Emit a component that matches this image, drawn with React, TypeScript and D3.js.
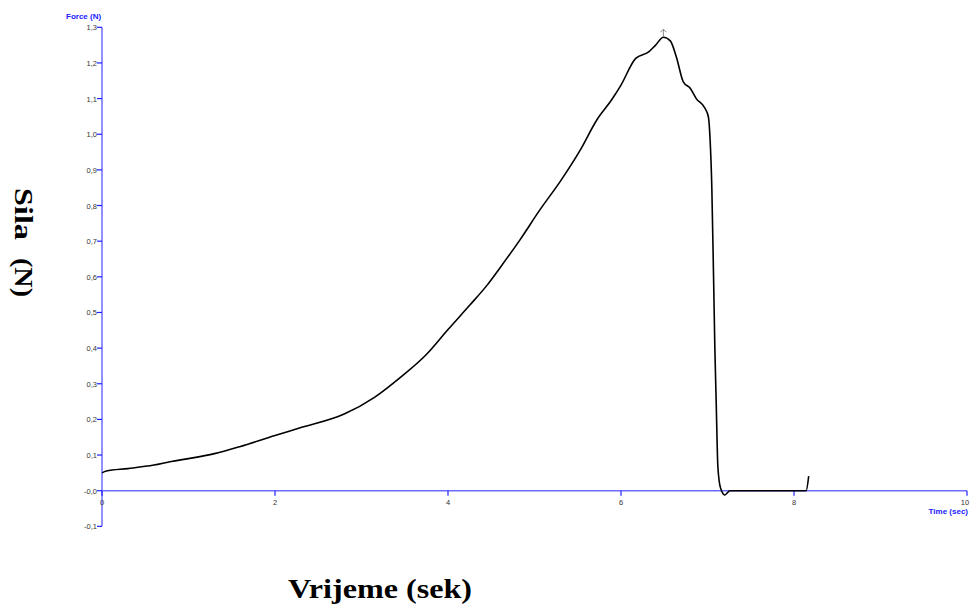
import React from "react";
import * as d3 from "d3";

const timeValues = [0, 0.05, 0.3, 0.6, 0.8, 1.0, 1.3, 1.6, 2.0, 2.3, 2.8, 3.15, 3.45, 3.75, 4.0, 4.25, 4.45, 4.6, 4.83, 5.06, 5.31, 5.53, 5.72, 5.89, 6.0, 6.17, 6.32, 6.4, 6.49, 6.57, 6.64, 6.72, 6.8, 6.87, 6.97, 7.01, 7.03, 7.05, 7.07, 7.085, 7.1, 7.12, 7.15, 7.2, 7.26, 7.5, 8.0, 8.14, 8.17];
const forceValues = [0.05, 0.055, 0.062, 0.072, 0.082, 0.09, 0.104, 0.124, 0.155, 0.177, 0.215, 0.262, 0.318, 0.382, 0.452, 0.52, 0.576, 0.625, 0.703, 0.787, 0.872, 0.956, 1.04, 1.096, 1.138, 1.213, 1.231, 1.25, 1.272, 1.262, 1.217, 1.147, 1.129, 1.1, 1.073, 1.049, 0.985, 0.85, 0.6, 0.4, 0.254, 0.067, 0.008, -0.012, 0, 0, 0, 0, 0.041];
const yTicks = [-0.1, 0, 0.1, 0.2, 0.3, 0.4, 0.5, 0.6, 0.7, 0.8, 0.9, 1.0, 1.1, 1.2, 1.3];
const yTickLabels = ["-0,1", "-0,0", "0,1", "0,2", "0,3", "0,4", "0,5", "0,6", "0,7", "0,8", "0,9", "1,0", "1,1", "1,2", "1,3"];
const xTicks = [0, 2, 4, 6, 8, 10];
const xTickLabels = ["0", "2", "4", "6", "8", "10"];

export default function App() {
  const W = 973, H = 610;
  const x = d3.scaleLinear().domain([0, 10]).range([102, 967]);
  const y = d3.scaleLinear().domain([0, 1.3]).range([490.7, 27.3]);
  const data = timeValues.map((t, i) => [t, forceValues[i]] as [number, number]);
  const line = d3.line<[number, number]>().x(d => x(d[0])).y(d => y(d[1])).curve(d3.curveMonotoneX);
  const axisColor = "#6b6bff";
  const tickColor = "#2020ff";
  const labelColor = "#333";
  const peak = data.reduce((a, b) => (b[1] > a[1] ? b : a));
  const serif = "Liberation Serif, Times New Roman, serif";
  const sans = "Arial, Liberation Sans, sans-serif";
  return (
    <svg width={W} height={H} style={{ position: "absolute", left: 0, top: 0, background: "#fff" }}>
      <rect width={W} height={H} fill="#fff" />
      {/* y axis */}
      <line x1={x(0)} x2={x(0)} y1={y(1.3)} y2={y(-0.1)} stroke={axisColor} strokeWidth={1.5} />
      {yTicks.map((v, i) => (
        <g key={i}>
          <line x1={x(0) - 5} x2={x(0)} y1={y(v)} y2={y(v)} stroke={tickColor} strokeWidth={1.2} />
          <text x={x(0) - 5} y={y(v) + 3} textAnchor="end" fontFamily={sans} fontSize={7.5} fill={labelColor}>{yTickLabels[i]}</text>
        </g>
      ))}
      {/* x axis */}
      <line x1={x(0)} x2={x(10)} y1={y(0)} y2={y(0)} stroke={axisColor} strokeWidth={1.5} />
      {xTicks.map((v, i) => (
        <g key={i}>
          <line x1={x(v)} x2={x(v)} y1={y(0)} y2={y(0) + 5} stroke={tickColor} strokeWidth={1.2} />
          <text x={x(v) - (i === xTicks.length - 1 ? 2 : 0)} y={y(0) + 14} textAnchor="middle" fontFamily={sans} fontSize={7.5} fill={labelColor}>{xTickLabels[i]}</text>
        </g>
      ))}
      <text x={66} y={19} fontFamily={sans} fontSize={8} fontWeight="bold" fill="#2020ff">Force (N)</text>
      <text x={968} y={514} textAnchor="end" fontFamily={sans} fontSize={8} fontWeight="bold" fill="#2020ff">Time (sec)</text>
      {/* curve */}
      <path d={line(data) || ""} fill="none" stroke="#000" strokeWidth={1.6} />
      {/* peak marker */}
      <g stroke="#888" strokeWidth={1} fill="none">
        <line x1={x(peak[0])} x2={x(peak[0])} y1={y(peak[1]) - 1} y2={y(peak[1]) - 8} />
        <polyline points={`${x(peak[0]) - 3},${y(peak[1]) - 5} ${x(peak[0])},${y(peak[1]) - 8} ${x(peak[0]) + 3},${y(peak[1]) - 5}`} />
      </g>
      {/* titles */}
      <text transform="translate(15,188) rotate(90)" fontFamily={serif} fontSize={26} fontWeight="bold" fill="#000" textLength={52} lengthAdjust="spacingAndGlyphs">Sila</text>
      <text transform="translate(15,258) rotate(90)" fontFamily={serif} fontSize={26} fontWeight="bold" fill="#000" textLength={39} lengthAdjust="spacingAndGlyphs">(N)</text>
      <text x={288} y={598} fontFamily={serif} fontSize={28} fontWeight="bold" fill="#000" textLength={184} lengthAdjust="spacingAndGlyphs">Vrijeme (sek)</text>
    </svg>
  );
}
